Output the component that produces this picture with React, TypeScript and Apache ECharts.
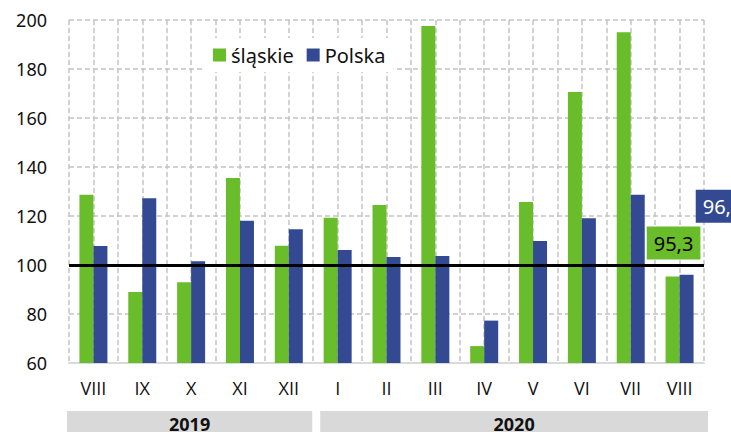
import React, { useEffect, useRef } from "react";
import * as echarts from "echarts";

const categories = ["VIII", "IX", "X", "XI", "XII", "I", "II", "III", "IV", "V", "VI", "VII", "VIII"];
const slaskie = [128.7, 89.0, 93.0, 135.5, 107.9, 119.3, 124.5, 197.6, 66.9, 125.7, 170.6, 195.0, 95.3];
const polska = [107.8, 127.2, 101.5, 118.1, 114.6, 106.1, 103.3, 103.7, 77.3, 109.8, 119.1, 128.7, 96.0];
const yearLabels = ["2019", "2020"];
const yearSpans = [5, 8];
const referenceLevel = 100;

const GREEN = "#6ABD2A";
const BLUE = "#334A92";
const FONT = "'Noto Sans', sans-serif";
const CAT_FONT = "'Open Sans', sans-serif";

const fmt = (v: number) => v.toFixed(1).replace(".", ",");

export default function App() {
  const ref = useRef<HTMLDivElement>(null);
  useEffect(() => {
    if (!ref.current) return;
    const chart = echarts.init(ref.current, null, { renderer: "svg" });
    const last = categories.length - 1;
    const greenData = slaskie.map((v, i) =>
      i === last
        ? {
            value: v,
            label: {
              show: true,
              position: "top",
              distance: 17,
              offset: [1, 0],
              formatter: (p: any) => fmt(p.value),
              backgroundColor: GREEN,
              color: "#000",
              fontSize: 20,
              fontFamily: FONT,
              padding: [7, 7, 6, 7],
            },
          }
        : v
    );
    const blueData = polska.map((v, i) =>
      i === last
        ? {
            value: v,
            label: {
              show: true,
              position: "top",
              distance: 52,
              offset: [36, 0],
              formatter: (p: any) => fmt(p.value),
              backgroundColor: BLUE,
              color: "#fff",
              fontSize: 20,
              fontFamily: FONT,
              padding: [7, 7, 6, 7],
            },
          }
        : v
    );
    const halfCats = categories.flatMap((c, i) => [c + "a" + i, c + "b" + i]);
    chart.setOption({
      animation: false,
      textStyle: { fontFamily: FONT },
      grid: { left: 69, right: 27, top: 20, bottom: 69 },
      legend: {
        left: 205,
        top: 38,
        padding: [7, 8, 7, 8],
        backgroundColor: "#fff",
        icon: "rect",
        itemWidth: 13,
        itemHeight: 13,
        itemGap: 13,
        textStyle: { fontSize: 20, color: "#111", fontFamily: FONT },
        data: ["śląskie", "Polska"],
      },
      xAxis: [
        {
          type: "category",
          data: categories,
          position: "bottom",
          axisLine: { lineStyle: { color: "#D9D9D9", width: 2 } },
          axisTick: { show: false },
          axisLabel: { fontSize: 18, color: "#111", margin: 16, fontFamily: CAT_FONT, interval: 0 },
          splitLine: { show: false },
        },
        {
          type: "category",
          data: halfCats,
          position: "top",
          axisLine: { show: false },
          axisTick: { show: false },
          axisLabel: { show: false },
          splitLine: { show: true, interval: 0, lineStyle: { color: "#C3C3C3", width: 1.5, type: [5, 3] } },
        },
      ],
      yAxis: {
        type: "value",
        min: 60,
        max: 200,
        interval: 20,
        axisLine: { show: false },
        axisTick: { show: false },
        axisLabel: { fontSize: 18, color: "#111", margin: 22, fontFamily: FONT },
        splitLine: { lineStyle: { color: "#C3C3C3", width: 1.5, type: [5, 3] } },
      },
      series: [
        {
          name: "śląskie",
          type: "bar",
          data: greenData,
          barWidth: 14,
          barGap: "0%",
          itemStyle: { color: GREEN },
          markLine: {
            silent: true,
            symbol: ["none", "none"],
            label: { show: false },
            lineStyle: { color: "#000", width: 3, type: "solid" },
            data: [{ yAxis: referenceLevel }],
            z: 10,
          },
        },
        {
          name: "Polska",
          type: "bar",
          data: blueData,
          barWidth: 14,
          itemStyle: { color: BLUE },
        },
        {
          name: "_helper",
          type: "bar",
          xAxisIndex: 1,
          data: [],
        },
      ],
    });

    // year bands computed from the category scale
    const c0 = chart.convertToPixel({ xAxisIndex: 0 }, 0) as number;
    const c1 = chart.convertToPixel({ xAxisIndex: 0 }, 1) as number;
    const w = c1 - c0;
    const graphics: any[] = [];
    let start = 0;
    yearSpans.forEach((span, k) => {
      const xl = c0 - w / 2 + start * w + (k === 0 ? -2 : 7);
      const xr = c0 - w / 2 + (start + span) * w + (k === 0 ? -1 : 4);
      graphics.push({
        type: "rect",
        shape: { x: xl, y: 411, width: xr - xl, height: 30 },
        style: { fill: "#D9D9D9" },
        silent: true,
      });
      graphics.push({
        type: "text",
        x: (xl + xr) / 2,
        y: 424,
        style: {
          text: yearLabels[k],
          fill: "#111",
          fontSize: 18,
          fontWeight: "bold",
          fontFamily: FONT,
          textAlign: "center",
          textVerticalAlign: "middle",
        },
        silent: true,
      });
      start += span;
    });
    chart.setOption({ graphic: graphics });
    return () => chart.dispose();
  }, []);
  return <div ref={ref} style={{ position: "absolute", left: 0, top: 0, width: 731, height: 432 }} />;
}
